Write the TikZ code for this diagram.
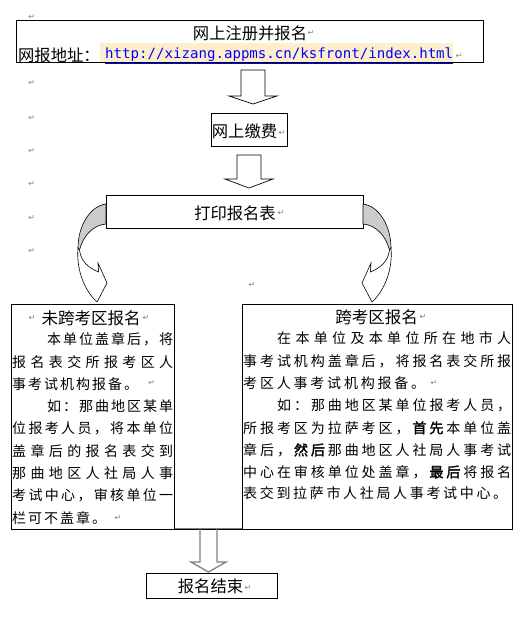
\documentclass[tikz,border=0pt]{standalone}
\usepackage{fontspec}
\setmainfont{Noto Sans CJK SC}
\newfontfamily\cjkbold[FakeBold=2]{Noto Sans CJK SC}
\newfontfamily\monofont{DejaVu Sans Mono}
\newfontfamily\symfont{DejaVu Sans}
\usetikzlibrary{calc}
\definecolor{hlcolor}{RGB}{255,238,204}
\definecolor{backgray}{RGB}{204,204,204}
\definecolor{retgray}{RGB}{128,128,128}
\definecolor{urlblue}{RGB}{0,0,255}
\def\spreadA#1{{#1}\spreadB}
\def\spreadB#1{\ifx\relax#1\else\hfil{#1}\expandafter\spreadB\fi}
\newcommand\spreadline[2]{\makebox[#1pt][s]{\spreadA#2\relax}}
\newcommand\bo[1]{{\cjkbold #1}}
\tikzset{
  box/.style={draw, line width=0.9pt, inner sep=0pt, fill=white},
  ret/.style={text=retgray, font=\symfont\fontsize{8}{8}\selectfont, inner sep=0pt},
  titletext/.style={font=\fontsize{16.3}{16}\selectfont, inner sep=0pt},
  body/.style={anchor=west, inner sep=0pt, font=\fontsize{14}{14}\selectfont},
  blockarrow/.style={draw=black, line width=0.7pt, fill=white, line join=miter},
  grayarrow/.style={draw=retgray, line width=1.3pt},
  curvefront/.style={draw=black, line width=0.6pt, fill=white},
  curveback/.style={draw=black, line width=0.6pt, fill=backgray},
}
\begin{document}
\begin{tikzpicture}[x=1pt,y=-1pt]
\useasboundingbox (0,0) rectangle (529,624);
\fill[white] (0,0) rectangle (529,624);

% top box
\fill[hlcolor] (100,43) rectangle (453,62);
\node[box, fill=none, minimum width=467pt, minimum height=42pt, anchor=north west] (reg) at (16,20) {};
\node[titletext] (regt) at (250,33) {网上注册并报名};
\node[titletext, anchor=west] (addr) at (18,55) {网报地址：};
\node[anchor=west, inner sep=0pt, text=urlblue, font=\monofont\fontsize{14.1}{14}\selectfont] (url) at (105,55) {http://xizang.appms.cn/ksfront/index.html};
\draw[urlblue, line width=0.8pt] (url.south west) ++(0,1.5) coordinate (ul1) -- (ul1 -| url.south east);

% arrow 1
\draw[blockarrow] (241,70) -- (265,70) -- (265,96) -- (277,96) -- (253,104) -- (229,96) -- (241,96) -- cycle;

% pay
\node[box, minimum width=76pt, minimum height=33pt, anchor=north west] (pay) at (211,113) {};
\node[titletext] (payt) at (244.5,131) {网上缴费};

% arrow 2
\draw[blockarrow] (237,155) -- (261,155) -- (261,179) -- (273,179) -- (249,188) -- (225,179) -- (237,179) -- cycle;

% print
\node[box, minimum width=257pt, minimum height=33pt, anchor=north west] (print) at (106,195) {};
\node[titletext] (printt) at (235,213) {打印报名表};

% curved arrows
\begin{scope}
\draw[curveback] (106,204) .. controls (90,206) and (78,226) .. (78,248) -- (79.5,250) .. controls (83,236) and (93,225) .. (106,224) -- cycle;
\draw[curvefront] (78,248) .. controls (76,272) and (86,292) .. (97,302) -- (107,283) -- (98,263) -- (98.7,272) .. controls (89,268) and (81,262) .. (79.5,250) -- cycle;
\end{scope}
\begin{scope}[xshift=469pt, xscale=-1]
\draw[curveback] (106,204) .. controls (90,206) and (78,226) .. (78,248) -- (79.5,250) .. controls (83,236) and (93,225) .. (106,224) -- cycle;
\draw[curvefront] (78,248) .. controls (76,272) and (86,292) .. (97,302) -- (107,283) -- (98,263) -- (98.7,272) .. controls (89,268) and (81,262) .. (79.5,250) -- cycle;
\end{scope}

% left box
\node[box, minimum width=163pt, minimum height=225pt, anchor=north west] (lbox) at (11,304) {};
\node[titletext, anchor=west, font=\fontsize{16.5}{16}\selectfont] (lt) at (41.5,318) {未跨考区报名};
\node[body] at (47,339) {\spreadline{126}{本单位盖章后，将}};
\node[body] at (12,362) {\spreadline{161}{报名表交所报考区人}};
\node[body] at (12,384) {\spreadline{126}{事考试机构报备。}};
\node[body] at (47,406) {\spreadline{126}{如：那曲地区某单}};
\node[body] at (12,428.5) {\spreadline{161}{位报考人员，将本单位}};
\node[body] at (12,451) {\spreadline{161}{盖章后的报名表交到}};
\node[body] at (12,473) {\spreadline{161}{那曲地区人社局人事}};
\node[body] at (12,495.5) {\spreadline{161}{考试中心，审核单位一}};
\node[body] at (12,518) {\spreadline{94}{栏可不盖章。}};

% right box
\node[box, minimum width=270pt, minimum height=225pt, anchor=north west] (rbox) at (242,304) {};
\node[titletext, font=\fontsize{16.5}{16}\selectfont] (rt) at (376.5,317) {跨考区报名};
\node[body] at (277,338.5) {\spreadline{234}{在本单位及本单位所在地市人}};
\node[body] at (243,361.5) {\spreadline{268}{事考试机构盖章后，将报名表交所报}};
\node[body] at (243,383) {\spreadline{182}{考区人事考试机构报备。}};
\node[body] at (277,405.5) {\spreadline{234}{如：那曲地区某单位报考人员，}};
\node[body] at (243,428) {\spreadline{268}{所报考区为拉萨考区，{\bo{首}}{\bo{先}}本单位盖}};
\node[body] at (243,450) {\spreadline{268}{章后，{\bo{然}}{\bo{后}}那曲地区人社局人事考试}};
\node[body] at (243,472) {\spreadline{268}{中心在审核单位处盖章，{\bo{最}}{\bo{后}}将报名}};
\node[body] at (243,493.5) {\spreadline{264}{表交到拉萨市人社局人事考试中心。}};

% bottom joining lines
\draw[retgray, line width=0.9pt] (lbox.south east) ++(0,-1) coordinate (g1) -- (g1 -| rbox.south west);
\draw[line width=0.9pt] (lbox.south west) -- (rbox.south east);

% arrow 3
\draw[grayarrow, line join=miter] (200,529) -- (200,562) -- (191,562) -- (208.5,572) -- (226,562) -- (217,562) -- (217,529);

% end box
\node[box, minimum width=131pt, minimum height=25pt, anchor=north west] (endbox) at (146,573) {};
\node[titletext] (endt) at (210.5,586.5) {报名结束};

% paragraph marks
\foreach \px/\py in {31.7/16.7, 311/33, 459/56, 31.7/83, 282/133, 31.7/118, 31.7/151, 31.7/184, 281/213, 31.7/218, 31.7/251, 252/285, 32/318, 146/318, 151.7/383, 118/518, 423/317, 434/383, 248/588}
  \node[ret] at (\px,\py) {↵};
\end{tikzpicture}
\end{document}
